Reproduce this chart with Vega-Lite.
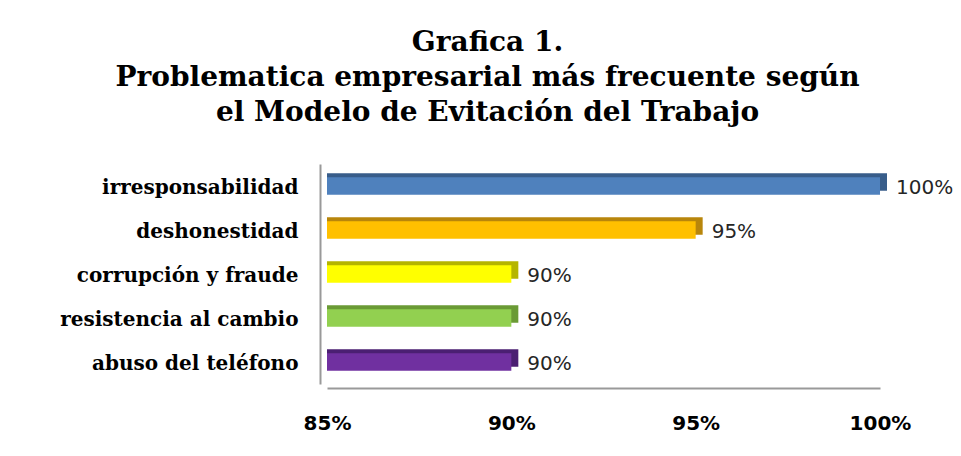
{
  "$schema": "https://vega.github.io/schema/vega-lite/v6.json",
  "width": 553,
  "height": 220,
  "autosize": {"type": "none"},
  "padding": {"left": 327, "top": 164, "right": 81, "bottom": 72},
  "background": "white",
  "title": {
    "text": ["Grafica 1.", "Problematica empresarial más frecuente según", "el Modelo de Evitación del Trabajo"],
    "font": "DejaVu Serif",
    "fontWeight": "bold",
    "fontSize": 28,
    "lineHeight": 35,
    "color": "#000000",
    "anchor": "middle",
    "frame": "group",
    "dx": -116,
    "offset": 37
  },
  "data": {
    "values": [
      {"problema": "irresponsabilidad", "valor": 100},
      {"problema": "deshonestidad", "valor": 95},
      {"problema": "corrupción y fraude", "valor": 90},
      {"problema": "resistencia al cambio", "valor": 90},
      {"problema": "abuso del teléfono", "valor": 90}
    ]
  },
  "encoding": {
    "y": {
      "field": "problema",
      "type": "nominal",
      "sort": null,
      "scale": {"paddingInner": 0.6, "paddingOuter": 0.3},
      "axis": {
        "title": null,
        "ticks": false,
        "domain": true,
        "domainColor": "#999999",
        "domainWidth": 2,
        "offset": 7,
        "labelFont": "DejaVu Serif",
        "labelFontWeight": "bold",
        "labelFontSize": 20,
        "labelColor": "#000000",
        "labelPadding": 22,
        "labelLimit": 0,
        "labelBaseline": "middle",
        "labelOffset": 2
      }
    }
  },
  "layer": [
    {
      "mark": {"type": "bar", "yOffset": -4, "xOffset": 7},
      "encoding": {
        "x": {"field": "valor", "type": "quantitative"},
        "x2": {"datum": 85},
        "color": {
          "field": "problema",
          "type": "nominal",
          "legend": null,
          "scale": {
            "domain": ["irresponsabilidad", "deshonestidad", "corrupción y fraude", "resistencia al cambio", "abuso del teléfono"],
            "range": ["#385D8A", "#B8860B", "#B5B500", "#6A9A35", "#4B1F72"]
          }
        }
      }
    },
    {
      "mark": {"type": "bar"},
      "encoding": {
        "x": {
          "field": "valor",
          "type": "quantitative",
          "scale": {"domain": [85, 100], "zero": false, "nice": false},
          "axis": {
            "title": null,
            "values": [85, 90, 95, 100],
            "labelExpr": "datum.value + '%'",
            "grid": false,
            "ticks": false,
            "domain": true,
            "domainColor": "#999999",
            "domainWidth": 2,
            "offset": 4,
            "labelFont": "DejaVu Sans",
            "labelFontWeight": "bold",
            "labelFontSize": 20,
            "labelColor": "#000000",
            "labelPadding": 25,
            "labelDx": -12,
            "labelFlush": false
          }
        },
        "x2": {"datum": 85},
        "color": {
          "field": "problema",
          "type": "nominal",
          "legend": null,
          "scale": {
            "domain": ["irresponsabilidad", "deshonestidad", "corrupción y fraude", "resistencia al cambio", "abuso del teléfono"],
            "range": ["#4F81BD", "#FFC000", "#FFFF00", "#92D050", "#7030A0"]
          }
        }
      }
    },
    {
      "mark": {"type": "text", "align": "left", "baseline": "middle", "dx": 16, "dy": 2, "font": "DejaVu Sans", "fontSize": 20, "color": "#262626"},
      "encoding": {
        "x": {"field": "valor", "type": "quantitative"},
        "text": {"field": "lbl", "type": "nominal"}
      },
      "transform": [{"calculate": "datum.valor + '%'", "as": "lbl"}]
    }
  ],
  "resolve": {"scale": {"color": "independent"}},
  "config": {
    "view": {"stroke": null}
  }
}
